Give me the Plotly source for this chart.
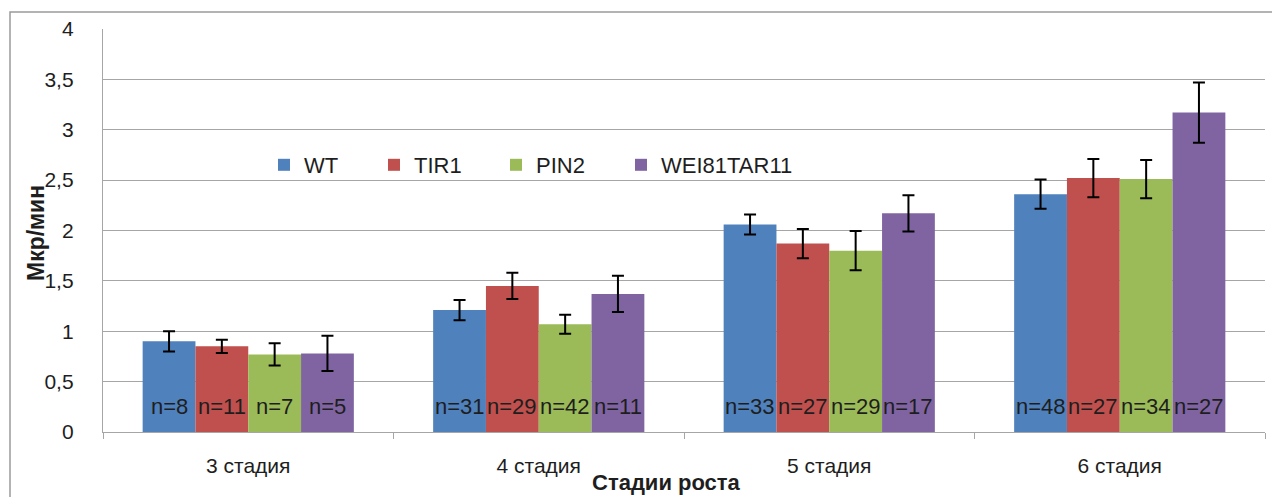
import plotly.graph_objects as go

categories = ["3 стадия", "4 стадия", "5 стадия", "6 стадия"]
series_names = ["WT", "TIR1", "PIN2", "WEI81TAR11"]
colors = ["#4F81BD", "#C0504D", "#9BBB59", "#8064A2"]

wt_vals = [0.90, 1.21, 2.06, 2.36]
tir1_vals = [0.85, 1.45, 1.87, 2.52]
pin2_vals = [0.77, 1.07, 1.80, 2.51]
wei_vals = [0.78, 1.37, 2.17, 3.17]

wt_err = [0.10, 0.10, 0.10, 0.145]
tir1_err = [0.065, 0.13, 0.145, 0.19]
pin2_err = [0.11, 0.095, 0.195, 0.19]
wei_err = [0.175, 0.18, 0.18, 0.30]

wt_n = [8, 31, 33, 48]
tir1_n = [11, 29, 27, 27]
pin2_n = [7, 42, 29, 34]
wei_n = [5, 11, 17, 27]

y_ticks = [0, 0.5, 1, 1.5, 2, 2.5, 3, 3.5, 4]

values = [wt_vals, tir1_vals, pin2_vals, wei_vals]
errors = [wt_err, tir1_err, pin2_err, wei_err]
counts = [wt_n, tir1_n, pin2_n, wei_n]
legend_widths = [65, 77, 80, 140]

FONT = "Liberation Sans"
TXT = "#1e1e1e"
GRID = "#a6a6a6"

# the page body has an 8px default margin; size the figure to fit the window
OFF = 8
W, H = 1280 - OFF, 497 - OFF
ML, MR, MT, MB = 103 - OFF, 15, 29 - OFF, 65
PW, PH = W - ML - MR, H - MT - MB
BARGAP = 0.273


def px_x(px):
    """screen x pixel -> paper fraction"""
    return (px - OFF - ML) / PW


def px_y(py):
    """screen y pixel -> paper fraction"""
    return (H - MB - (py - OFF)) / PH


fig = go.Figure()
for name, col, v, e, lw in zip(series_names, colors, values, errors, legend_widths):
    fig.add_trace(go.Bar(
        name=name, x=categories, y=v,
        marker=dict(color=col, line=dict(width=0)),
        error_y=dict(type="data", array=e, visible=True, color="#000000",
                     thickness=2, width=6),
        legendwidth=lw,
    ))

bw = (1 - BARGAP) / len(series_names)
annotations = []
for j, ns in enumerate(counts):
    for i, n in enumerate(ns):
        annotations.append(dict(
            x=i + (j - (len(series_names) - 1) / 2) * bw, y=0.25,
            xref="x", yref="y", text=f"n={n}", showarrow=False,
            font=dict(family=FONT, size=22, color=TXT),
            xanchor="center", yanchor="middle",
        ))

annotations.append(dict(
    x=px_x(36), y=px_y(233), xref="paper", yref="paper",
    text="Мкр/мин", textangle=-90, showarrow=False,
    font=dict(family=FONT, size=23, color=TXT, weight="bold"),
    xanchor="center", yanchor="middle",
))
annotations.append(dict(
    x=px_x(666), y=px_y(482), xref="paper", yref="paper",
    text="Стадии роста", showarrow=False,
    font=dict(family=FONT, size=22, color=TXT, weight="bold"),
    xanchor="center", yanchor="middle",
))

fig.update_layout(
    template="none",
    width=W, height=H, autosize=False,
    margin=dict(l=ML, r=MR, t=MT, b=MB, pad=0),
    paper_bgcolor="white", plot_bgcolor="white",
    separators=", ",
    barmode="group", bargap=BARGAP, bargroupgap=0,
    font=dict(family=FONT, color=TXT),
    showlegend=True,
    legend=dict(
        orientation="h", x=px_x(264), y=px_y(165),
        xanchor="left", yanchor="middle",
        font=dict(family=FONT, size=22, color=TXT),
        bgcolor="rgba(0,0,0,0)", borderwidth=0, itemwidth=30,
        traceorder="normal",
    ),
    annotations=annotations,
    shapes=[dict(
        type="rect", xref="paper", yref="paper",
        x0=px_x(10), x1=px_x(1295), y0=px_y(520), y1=px_y(12),
        line=dict(color="#9a9a9a", width=1.5), fillcolor="rgba(0,0,0,0)",
        layer="below",
    )],
)

fig.update_yaxes(
    range=[0, 4], tickvals=y_ticks, tickformat=",.1~f", automargin=False,
    showgrid=True, gridcolor=GRID, gridwidth=1.3,
    showline=True, linecolor=GRID, linewidth=1.3,
    ticks="outside", ticklen=24, tickcolor="rgba(0,0,0,0)",
    zeroline=False,
    tickfont=dict(family=FONT, size=21, color=TXT),
)
fig.update_xaxes(
    type="category", showgrid=False, automargin=False,
    showline=True, linecolor=GRID, linewidth=1.3,
    ticks="outside", tickson="boundaries", ticklen=6, tickcolor=GRID,
    tickwidth=1.3,
    tickfont=dict(family=FONT, size=21, color=TXT),
    ticklabelstandoff=15,
)

fig.write_html("out.html")
